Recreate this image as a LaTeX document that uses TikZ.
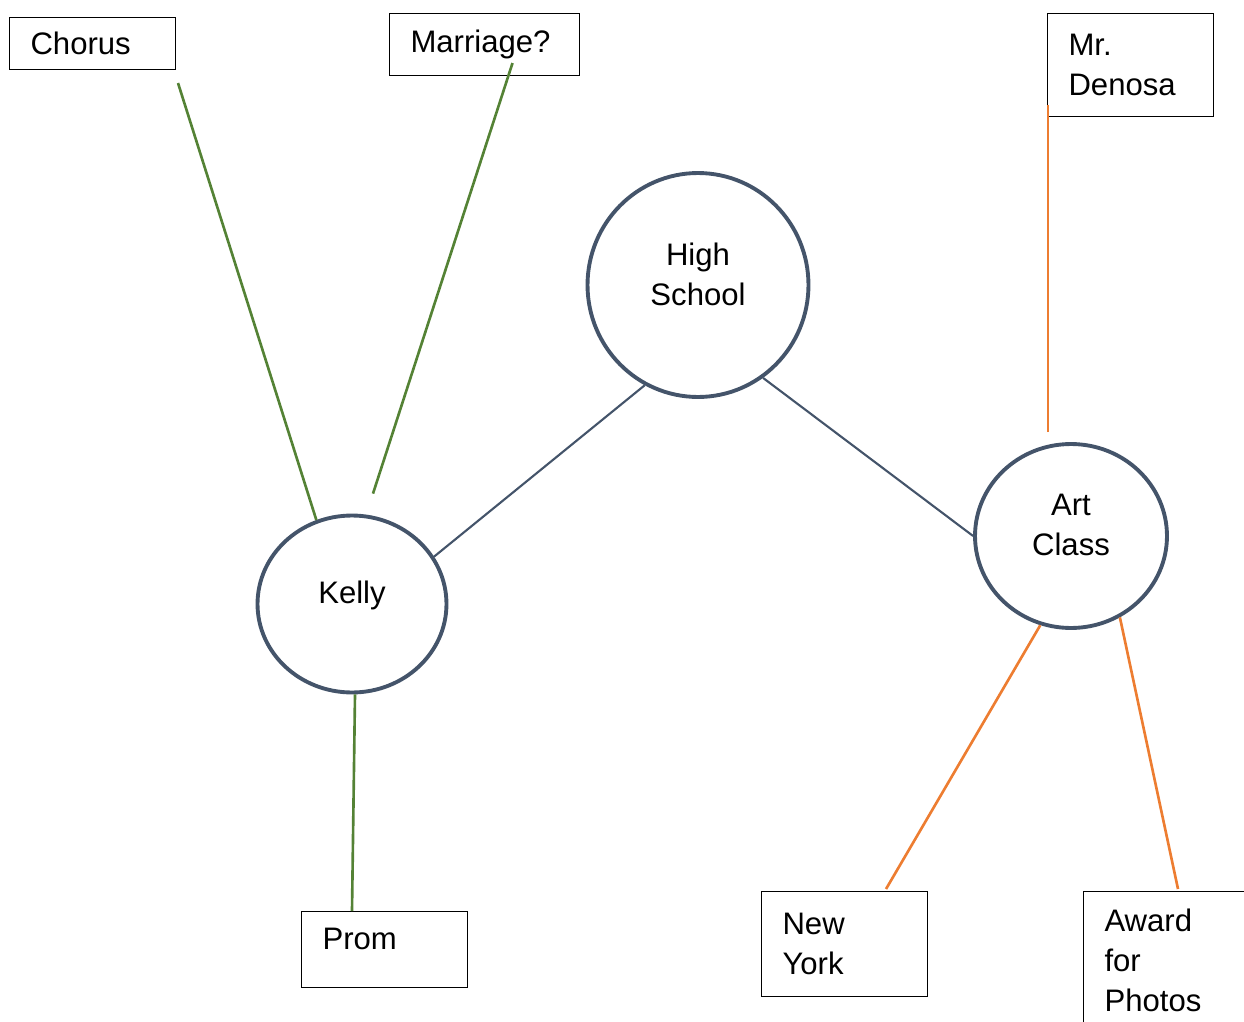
\documentclass[tikz,border=0pt]{standalone}
\usepackage{fontspec}
\setmainfont{Liberation Sans}
\usepackage{tikz}
\usetikzlibrary{calc,shapes.geometric}
\definecolor{slate}{RGB}{68,84,106}
\definecolor{leafgreen}{RGB}{84,130,53}
\definecolor{tangerine}{RGB}{237,125,49}

\begin{document}
\begin{tikzpicture}[
    x=0.02cm, y=-0.02cm,
    txt/.style={font=\fontsize{17.7}{22.7}\selectfont},
    topic/.style={txt,ellipse,draw=slate,line width=2.2pt,inner sep=0pt,align=center},
    box/.style={txt,draw,line width=0.6pt,anchor=north west,inner xsep=0.42cm,inner ysep=0pt,text width=2.48cm,align=left},
    kellyline/.style={draw=leafgreen,line width=1.5pt},
    artline/.style={draw=tangerine,line width=1.5pt},
    hubline/.style={draw=slate,line width=1.2pt}
]
\useasboundingbox (0,0) rectangle (1244,1021);
\clip (0,0) rectangle (1244,1021);
\node[topic,minimum width=4.42cm,minimum height=4.48cm,text depth=0.44cm] (school) at (698,285) {High\\School};
\node[topic,minimum width=3.78cm,minimum height=3.54cm,text depth=0.48cm] (kelly) at (352,604) {Kelly};
\node[topic,minimum width=3.84cm,minimum height=3.68cm,text depth=0.44cm] (art) at (1071,536) {Art\\Class};
\node[box,minimum height=1.04cm] (chorus) at (9,17) {Chorus};
\node[box,minimum height=1.24cm,text width=2.96cm] (marriage) at (389,13) {Marriage?};
\node[box,minimum height=2.06cm] (denosa) at (1047,13) {Mr.\\Denosa};
\node[box,minimum height=1.52cm,text depth=0.44cm] (prom) at (301,911) {Prom};
\node[box,minimum height=2.1cm] (newyork) at (761,891) {New\\York};
\node[box,minimum height=3.0cm,text depth=1.84cm] (award) at (1083,891) {Award\\for\\Photos};
\draw[hubline] (kelly.30) -- (school.-118);
\draw[hubline] (school.-55) -- (art.180);
\draw[kellyline] (kelly.113) -- ($(chorus.south east)+(2,13)$);
\draw[kellyline] ($(kelly.north)+(21,-20)$) -- ($(marriage.south)+(28,-13)$);
\draw[kellyline] ($(kelly.south)+(3,0)$) -- ($(prom.north west)+(51,0)$);
\draw[artline] ($(art.north)+(-23,-10)$) -- ($(denosa.south west)+(1,-12)$);
\draw[artline] (art.-109) -- ($(newyork.north east)+(-42,-2)$);
\draw[artline] (art.-59) -- ($(award.north west)+(95,-2)$);
\end{tikzpicture}
\end{document}
